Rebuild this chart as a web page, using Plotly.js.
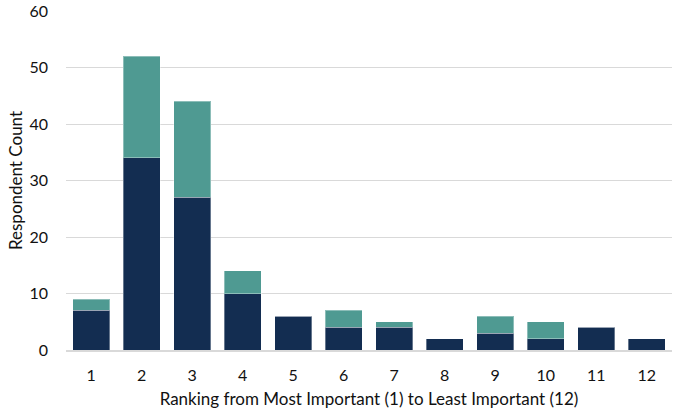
<!DOCTYPE html>
<html>
<head>
<meta charset="utf-8">
<script src="https://cdn.plot.ly/plotly-3.0.1.min.js"></script>
<style>html,body{margin:0;padding:0;background:#fff;}#chart{width:698px;height:409px;}</style>
</head>
<body>
<div id="chart"></div>
<script>
const categories = ['1','2','3','4','5','6','7','8','9','10','11','12'];
const seriesBottom = [7,34,27,10,6,4,4,2,3,2,4,2];
const seriesTop = [2,18,17,4,0,3,1,0,3,3,0,0];
const yTicks = [0,10,20,30,40,50,60];

const fontFam = 'Lato, "Open Sans", sans-serif';
const traces = [
  {type:'bar', x:categories, y:seriesBottom, name:'Bottom',
   marker:{color:'#132d51', line:{color:'rgba(255,255,255,0.35)', width:1}}, hoverinfo:'x+y'},
  {type:'bar', x:categories, y:seriesTop, name:'Top',
   marker:{color:'#4f9a92', line:{color:'rgba(255,255,255,0.35)', width:1}}, hoverinfo:'x+y'}
];
const layout = {
  barmode:'stack', bargap:0.26, showlegend:false,
  width:698, height:409,
  margin:{l:66, r:26, t:11, b:59},
  paper_bgcolor:'#fff', plot_bgcolor:'#fff',
  font:{family:fontFam, size:16, color:'#111'},
  xaxis:{type:'category', tickfont:{size:16, color:'#111'}, ticks:'', ticklen:0,
    showline:true, linecolor:'#d9d9d9', linewidth:2, showgrid:false, ticklabelstandoff:10,
    title:{text:'Ranking from Most Important (1) to Least Important (12)', font:{size:17, color:'#111'}, standoff:20}},
  yaxis:{range:[0,60], tickvals:yTicks, tickfont:{size:16, color:'#111'},
    gridcolor:'#d9d9d9', gridwidth:1, zeroline:false, showline:false, ticks:'', ticklabelstandoff:17,
    title:{text:'Respondent Count', font:{size:17, color:'#111'}, standoff:2}}
};
Plotly.newPlot('chart', traces, layout, {displayModeBar:false, staticPlot:true});
</script>
</body>
</html>
